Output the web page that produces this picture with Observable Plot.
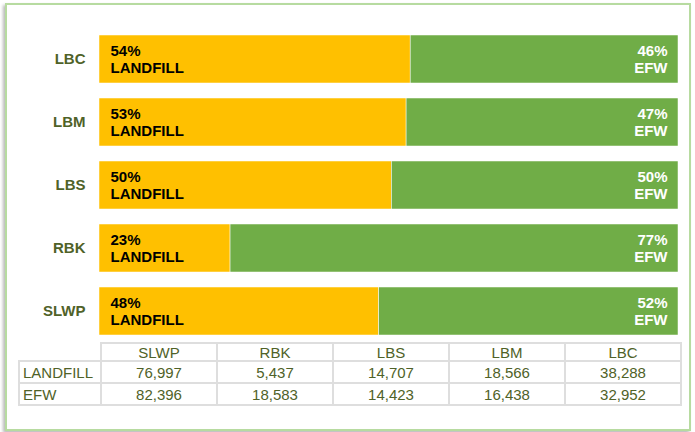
<!DOCTYPE html>
<html>
<head>
<meta charset="utf-8">
<script src="https://cdn.jsdelivr.net/npm/d3@7"></script>
<script src="https://cdn.jsdelivr.net/npm/@observablehq/plot@0.6"></script>
<style>
  html, body { margin: 0; padding: 0; background: #fff; }
  #wrap { position: relative; width: 695px; height: 432px; overflow: hidden; font-family: "Liberation Sans", Arial, sans-serif; }
  #frame { position: absolute; left: 5px; top: 3px; width: 682px; height: 424px; border: 2px solid #b7dba0; box-shadow: -2px 2px 3px rgba(0,0,0,0.28); background: #fff; }
  #chart { position: absolute; left: 0; top: 0; }
  #chart svg { font-family: "Liberation Sans", Arial, sans-serif; }
  #chart g[aria-label="y-axis tick label"] text { font-weight: bold; fill: #4f6228; font-size: 15px; }
  table { position: absolute; left: 18px; top: 342px; border-collapse: collapse; font-family: "Liberation Sans", Arial, sans-serif; font-size: 15px; color: #4f6228; }
  td { border: 2px solid #dedede; padding: 0; height: 20px; line-height: 19px; text-align: center; width: 114px; }
  td.lab { text-align: left; width: 77px; padding-left: 3px; }
  td.blank { border: none; }
  tr.head td { height: 16px; line-height: 15px; }
</style>
</head>
<body>
<div id="wrap">
  <div id="frame"></div>
  <div id="chart"></div>
  <table id="tbl"></table>
</div>
<script>
const categories = ["SLWP", "RBK", "LBS", "LBM", "LBC"];
const landfill = [76997, 5437, 14707, 18566, 38288];
const efw = [82396, 18583, 14423, 16438, 32952];
const types = ["LANDFILL", "EFW"];
const colors = ["#FFC000", "#70AD47"];

const rows = [];
categories.forEach((c, i) => {
  rows.push({cat: c, type: "LANDFILL", value: landfill[i]});
  rows.push({cat: c, type: "EFW", value: efw[i]});
});
const labels = categories.map((c, i) => {
  const t = landfill[i] + efw[i];
  return {cat: c, lf: Math.round(landfill[i] / t * 100), ef: Math.round(efw[i] / t * 100)};
});

const chart = Plot.plot({
  width: 695,
  height: 350,
  marginLeft: 99,
  marginRight: 17,
  marginTop: 20,
  marginBottom: 0,
  style: {background: "transparent", fontFamily: "Liberation Sans, Arial, sans-serif"},
  x: {axis: null, domain: [0, 1]},
  y: {domain: categories.slice().reverse(), paddingInner: 0.238, paddingOuter: 0.238, label: null, axis: null},
  color: {domain: types, range: colors},
  marks: [
    Plot.barX(rows, Plot.stackX({x: "value", y: "cat", fill: "type", offset: "normalize", order: null, stroke: "#fff", strokeWidth: 0.5})),
    Plot.axisY({tickSize: 0, tickPadding: 14, fontSize: 15, label: null}),
    Plot.text(labels, {x: () => 0, y: "cat", text: d => `${d.lf}%\nLANDFILL`, textAnchor: "start", dx: 11, dy: 0, fill: "#000", fontSize: 15, fontWeight: "bold", lineHeight: 1.13}),
    Plot.text(labels, {x: () => 1, y: "cat", text: d => `${d.ef}%\nEFW`, textAnchor: "end", dx: -11, dy: 0, fill: "#fff", fontSize: 15, fontWeight: "bold", lineHeight: 1.13})
  ]
});
document.getElementById("chart").appendChild(chart);

const fmt = d3.format(",");
const tbl = document.getElementById("tbl");
let html = '<tr class="head"><td class="blank lab"></td>' + categories.map(c => `<td>${c}</td>`).join("") + '</tr>';
html += '<tr><td class="lab">LANDFILL</td>' + landfill.map(v => `<td>${fmt(v)}</td>`).join("") + '</tr>';
html += '<tr><td class="lab">EFW</td>' + efw.map(v => `<td>${fmt(v)}</td>`).join("") + '</tr>';
tbl.innerHTML = html;
</script>
</body>
</html>
